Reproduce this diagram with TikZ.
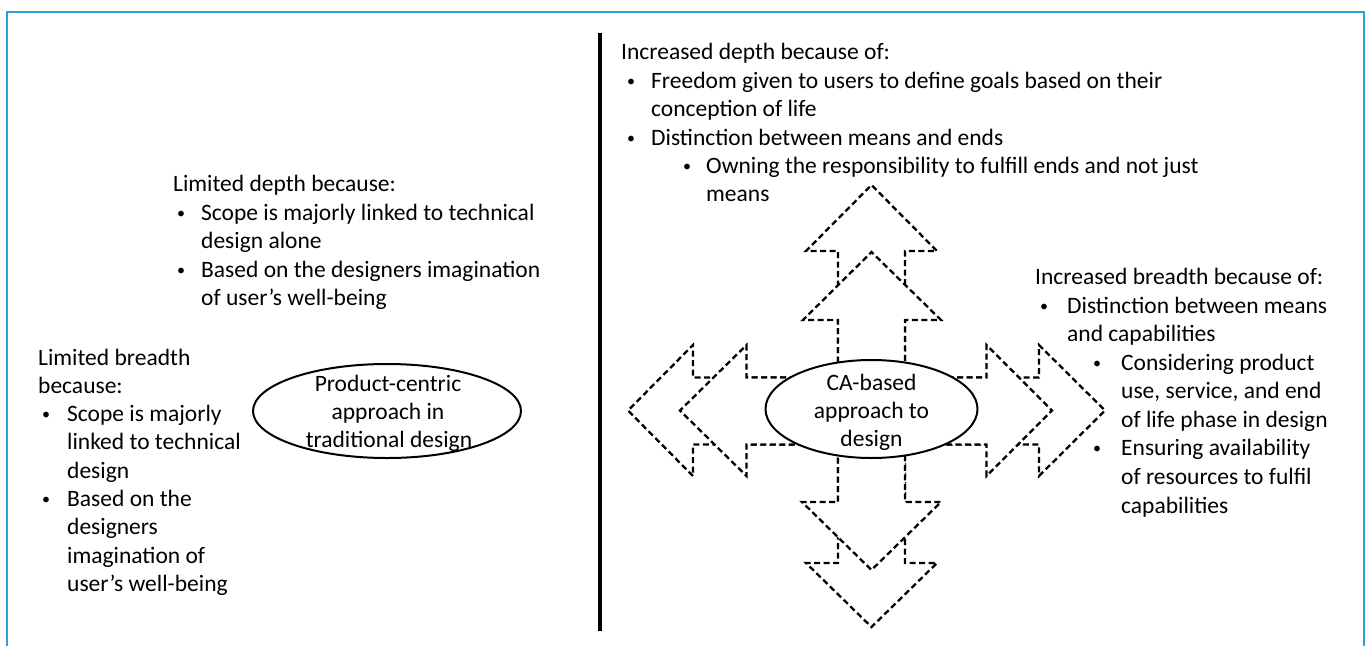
\documentclass[tikz,border=0pt]{standalone}
\usepackage{fontspec}
\setmainfont{Carlito}
\usetikzlibrary{shapes.geometric}
\definecolor{frameblue}{HTML}{2A9FD8}
\newcommand{\mybul}{\raisebox{1.8pt}{\fontsize{16}{16}\selectfont •}}
\begin{document}
\begin{tikzpicture}[x=1pt,y=-1pt,
  txt/.style={anchor=base west, inner sep=0pt, font=\fontsize{23.5}{28.5}\selectfont},
  ctxt/.style={anchor=base, inner sep=0pt, font=\fontsize{23.5}{28.5}\selectfont},
  bul/.style={anchor=base west, inner sep=0pt, font=\fontsize{23.5}{28.5}\selectfont},
  arrowshape/.style={draw=black, fill=white, line width=2.3pt, dash pattern=on 6pt off 3.5pt, line join=miter},
  ovalshape/.style={draw=black, fill=white, line width=2pt, ellipse, inner sep=0pt},
  framestyle/.style={draw=frameblue, line width=2.5pt},
  divider/.style={draw=black, line width=4pt}]
\useasboundingbox (0,0) rectangle (1371,646);
\fill[white] (0,0) rectangle (1371,646);
% frame
\coordinate (fbl) at (7,646);
\coordinate (ftl) at (7,12);
\coordinate (ftr) at (1364,12);
\coordinate (fbr) at (1364,646);
\draw[framestyle] (fbl) -- (ftl) -- (ftr) -- (fbr);
% divider
\coordinate (dtop) at (600,33);
\coordinate (dbot) at (600,631);
\draw[divider] (dtop) -- (dbot);

% ---- arrows (outer first) ----
% up outer
\draw[arrowshape] (838,410) -- (838,251) -- (806,251) -- (871.5,185) -- (937,251) -- (905,251) -- (905,410) -- cycle;
% down outer
\draw[arrowshape] (838,410) -- (838,563) -- (806,563) -- (871.5,627) -- (937,563) -- (905,563) -- (905,410) -- cycle;
% left outer
\draw[arrowshape] (871.5,377.5) -- (693,377.5) -- (693,345) -- (628,410.5) -- (693,476) -- (693,444.5) -- (871.5,444.5) -- cycle;
% right outer
\draw[arrowshape] (871.5,377.5) -- (1039,377.5) -- (1039,345) -- (1105,410.5) -- (1039,476) -- (1039,444.5) -- (871.5,444.5) -- cycle;
% up inner
\draw[arrowshape] (838,410) -- (838,320) -- (803,320) -- (871.5,252) -- (941,320) -- (905,320) -- (905,410) -- cycle;
% down inner
\draw[arrowshape] (838,410) -- (838,502) -- (802,502) -- (871.5,570) -- (941,502) -- (905,502) -- (905,410) -- cycle;
% left inner
\draw[arrowshape] (871.5,377.5) -- (746.5,377.5) -- (746.5,345) -- (680,410.5) -- (746.5,476) -- (746.5,444.5) -- (871.5,444.5) -- cycle;
% right inner
\draw[arrowshape] (871.5,377.5) -- (986.5,377.5) -- (986.5,345) -- (1052,410.5) -- (986.5,476) -- (986.5,444.5) -- (871.5,444.5) -- cycle;

% ---- ellipses ----
\node[ovalshape, minimum width=268pt, minimum height=94pt] (pe) at (387,411) {};
\node[ovalshape, minimum width=212pt, minimum height=98pt] (ce) at (871.5,409) {};

\node[ctxt] (pe1) at (388,391) {Product-centric};
\node[ctxt] (pe2) at (388,419) {approach in};
\node[ctxt] (pe3) at (389,447) {traditional design};

\node[ctxt] (ce1) at (871.5,390) {CA-based};
\node[ctxt] (ce2) at (871.5,418) {approach to};
\node[ctxt] (ce3) at (871.5,446) {design};

% ---- block A: increased depth ----
\node[txt] (a0) at (621,59) {Increased depth because of:};
\node[bul] (ab1) at (627,88) {\mybul};
\node[txt] (a1) at (651,88) {Freedom given to users to define goals based on their};
\node[txt] (a2) at (651,116) {conception of life};
\node[bul] (ab2) at (627,145) {\mybul};
\node[txt] (a3) at (651,145) {Distinction between means and ends};
\node[bul] (ab3) at (683,173) {\mybul};
\node[txt] (a4) at (706,173) {Owning the responsibility to fulfill ends and not just};
\node[txt] (a5) at (706,201) {means};

% ---- block B: limited depth ----
\node[txt] (b0) at (173,191) {Limited depth because:};
\node[bul] (bb1) at (177,220) {\mybul};
\node[txt] (b1) at (201,220) {Scope is majorly linked to technical};
\node[txt] (b2) at (201,248) {design alone};
\node[bul] (bb2) at (177,277) {\mybul};
\node[txt] (b3) at (201,277) {Based on the designers imagination};
\node[txt] (b4) at (201,305) {of user’s well-being};

% ---- block C: limited breadth ----
\node[txt] (c0) at (38,365) {Limited breadth};
\node[txt] (c1) at (38,393) {because:};
\node[bul] (cb1) at (42,421) {\mybul};
\node[txt] (c2) at (67,421) {Scope is majorly};
\node[txt] (c3) at (67,449) {linked to technical};
\node[txt] (c4) at (67,478) {design};
\node[bul] (cb2) at (42,506) {\mybul};
\node[txt] (c5) at (67,506) {Based on the};
\node[txt] (c6) at (67,534) {designers};
\node[txt] (c7) at (67,563) {imagination of};
\node[txt] (c8) at (67,591) {user’s well-being};

% ---- block D: increased breadth ----
\node[txt] (d0) at (1035,284) {Increased breadth because of:};
\node[bul] (db1) at (1040,313) {\mybul};
\node[txt] (d1) at (1067,313) {Distinction between means};
\node[txt] (d2) at (1067,341) {and capabilities};
\node[bul] (db2) at (1093,370) {\mybul};
\node[txt] (d3) at (1121,370) {Considering product};
\node[txt] (d4) at (1121,398) {use, service, and end};
\node[txt] (d5) at (1121,427) {of life phase in design};
\node[bul] (db3) at (1093,455) {\mybul};
\node[txt] (d6) at (1121,455) {Ensuring availability};
\node[txt] (d7) at (1121,484) {of resources to fulfil};
\node[txt] (d8) at (1121,513) {capabilities};
\end{tikzpicture}
\end{document}
